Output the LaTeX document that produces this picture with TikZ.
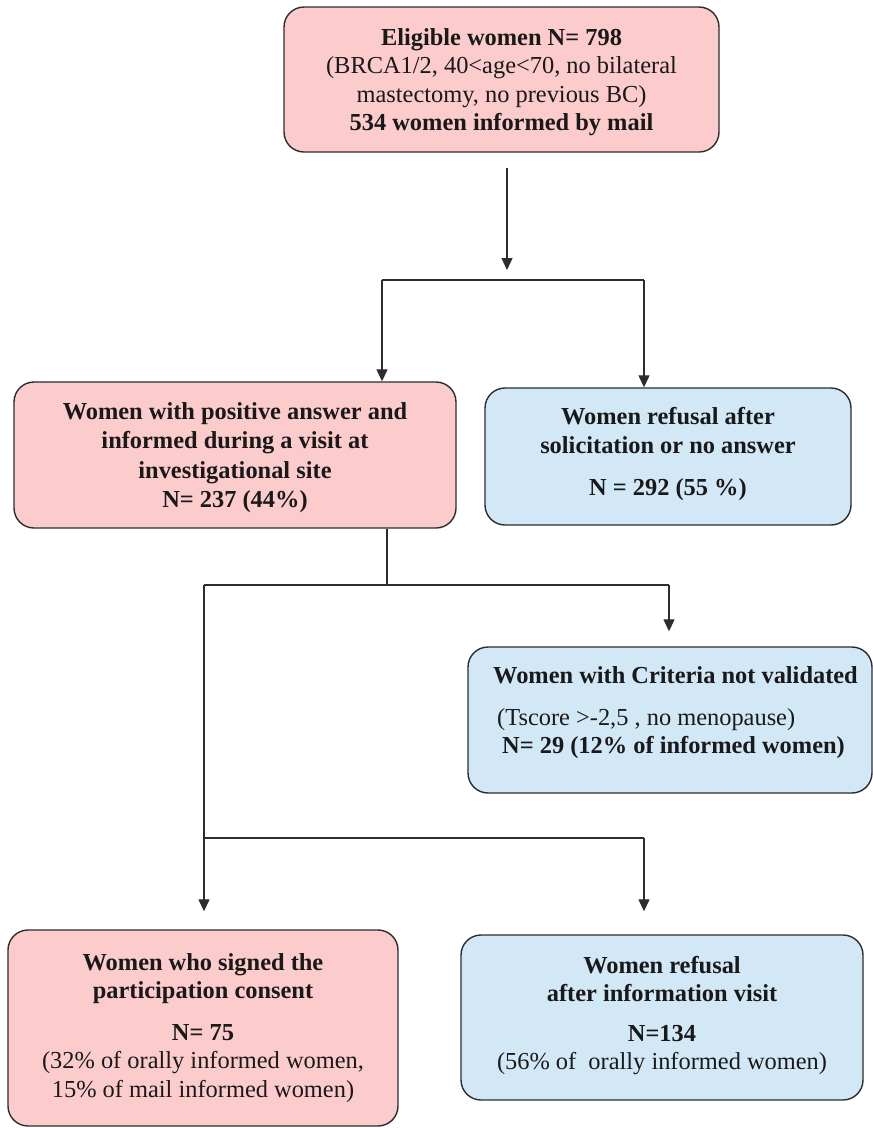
\documentclass[tikz,border=0pt]{standalone}
\usepackage{fontspec}
\setmainfont{Liberation Serif}
\usetikzlibrary{arrows.meta,calc}
\definecolor{pinkfill}{RGB}{252,204,205}
\definecolor{bluefill}{RGB}{211,232,246}
\definecolor{edgecol}{RGB}{45,45,45}
\begin{document}
\begin{tikzpicture}[x=1pt,y=-1pt,
  box/.style={draw=edgecol, line width=1.4pt, rounded corners=20pt, inner sep=0pt},
  pinkbox/.style={box, fill=pinkfill},
  bluebox/.style={box, fill=bluefill},
  txt/.style={align=center, font=\fontsize{24.4}{28.5}\selectfont, inner sep=0pt, text=black!90},
  conn/.style={draw=edgecol, line width=1.3pt},
  arr/.style={conn, -{Triangle[width=11pt,length=12pt]}}
]
\useasboundingbox (0,0) rectangle (873,1128);

% boxes
\node[pinkbox, minimum width=435pt, minimum height=145pt] (b1) at (501.5,79.5) {};
\node[pinkbox, minimum width=442pt, minimum height=146pt] (b2) at (235,455) {};
\node[bluebox, minimum width=366pt, minimum height=137pt] (b3) at (668,456.5) {};
\node[bluebox, minimum width=404pt, minimum height=146pt] (b4) at (670,720) {};
\node[pinkbox, minimum width=390pt, minimum height=196pt] (b5) at (203,1028) {};
\node[bluebox, minimum width=402pt, minimum height=165pt] (b6) at (662,1017.5) {};

% texts
\node[txt] (t1) at (501.5,82) {\textbf{Eligible women N= 798}\\(BRCA1/2, 40<age<70, no bilateral\\mastectomy, no previous BC)\\\textbf{534 women informed by mail}};
\node[txt, font=\fontsize{24.4}{29.5}\selectfont\bfseries] (t2) at (235,457.5) {Women with positive answer and\\informed during a visit at\\investigational site\\N= 237 (44\%)};
\node[txt, font=\fontsize{24.4}{29}\selectfont\bfseries] (t3) at (668,453.5) {Women refusal after\\solicitation or no answer\\[13pt]N = 292 (55 \%)};
\node[txt, align=left, anchor=west] (t4) at (493,713) {\textbf{Women with Criteria not validated}\\[13pt]\hspace*{4pt}(Tscore >-2,5 , no menopause)\\\hspace*{9pt}\textbf{N= 29 (12\% of informed women)}};
\node[txt] (t5) at (203,1028) {\textbf{Women who signed the}\\\textbf{participation consent}\\[13pt]\textbf{N= 75}\\(32\% of orally informed women,\\15\% of mail informed women)};
\node[txt] (t6) at (662,1015.5) {\textbf{Women refusal}\\\textbf{after information visit}\\[11pt]\textbf{N=134}\\(56\% of\ \ orally informed women)};

% connectors
\coordinate (s1) at (507,168);
\coordinate (j1) at (507,280);
\coordinate (l1) at (382,280);
\coordinate (r1) at (644,280);
\draw[arr, shorten >=10pt] (s1) -- (j1);
\draw[conn] (l1) -- (r1);
\draw[arr] (l1) -- (l1 |- b2.north);
\draw[arr] (r1) -- (r1 |- b3.north);

\coordinate (j2) at (387,585);
\coordinate (l2) at (204,585);
\coordinate (r2) at (669,585);
\draw[conn] (j2 |- b2.south) -- (j2);
\draw[conn] (l2) -- (r2);
\draw[arr, shorten >=15pt] (r2) -- (r2 |- b4.north);

\coordinate (j3) at (204,838);
\coordinate (r3) at (644,838);
\draw[arr, shorten >=18pt] (l2) -- (l2 |- b5.north);
\draw[conn] (j3) -- (r3);
\draw[arr, shorten >=23pt] (r3) -- (r3 |- b6.north);
\end{tikzpicture}
\end{document}
